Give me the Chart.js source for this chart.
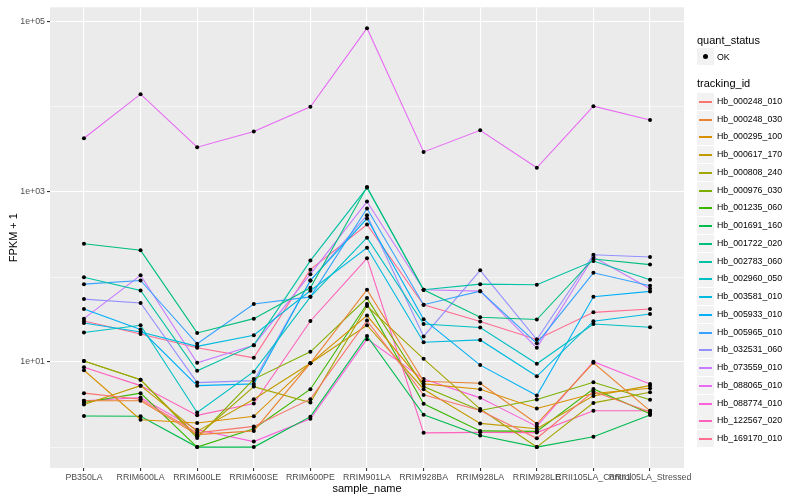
<!DOCTYPE html>
<html>
<head>
<meta charset="utf-8">
<script src="https://cdn.jsdelivr.net/npm/chart.js@4.4.1/dist/chart.umd.min.js"></script>
<style>
body { margin: 0; background: #fff; font-family: "Liberation Sans", Arial, sans-serif; }
#wrap { position: relative; width: 800px; height: 500px; }
#legend { position: absolute; left: 690px; top: 0; width: 110px; height: 500px; color: #000; }
.ltitle { position: absolute; left: 7px; font-size: 11px; line-height: 12px; }
.lkey { position: absolute; left: 7px; width: 17px; height: 17px; background: #F2F2F2; }
.lline { position: absolute; left: 2px; width: 13px; top: 8px; height: 2px; }
.ldot { position: absolute; left: 6px; top: 6px; width: 5px; height: 5px; border-radius: 50%; background: #000; }
.llabel { position: absolute; left: 27px; font-size: 8.8px; line-height: 10px; }
</style>
</head>
<body>
<div id="wrap">
  <canvas id="chart" width="800" height="500"></canvas>
  <div id="legend"></div>
</div>
<script>
// amostras (eixo x)
var samples = ['PB350LA', 'RRIM600LA', 'RRIM600LE', 'RRIM600SE', 'RRIM600PE', 'RRIM901LA',
               'RRIM928BA', 'RRIM928LA', 'RRIM928LE', 'RRII105LA_Control', 'RRII105LA_Stressed'];

var trackingIds = ['Hb_000248_010', 'Hb_000248_030', 'Hb_000295_100', 'Hb_000617_170', 'Hb_000808_240',
                   'Hb_000976_030', 'Hb_001235_060', 'Hb_001691_160', 'Hb_001722_020', 'Hb_002783_060',
                   'Hb_002960_050', 'Hb_003581_010', 'Hb_005933_010', 'Hb_005965_010', 'Hb_032531_060',
                   'Hb_073559_010', 'Hb_088065_010', 'Hb_088774_010', 'Hb_122567_020', 'Hb_169170_010'];

var colors = ['#F8766D', '#EA8331', '#D89000', '#C09B00', '#A3A500', '#7CAE00', '#39B600', '#00BB4E',
              '#00BF7D', '#00C1A3', '#00BFC4', '#00BAE0', '#00B0F6', '#35A2FF', '#9590FF', '#C77CFF',
              '#E76BF3', '#FA62DB', '#FF62BC', '#FF6C91'];

// FPKM + 1 por tracking_id, na ordem das amostras
var hb_000248_010 = [4.31, 3.66, 1.47, 1.75, 3.66, 30.7, 4.11, 2.69, 1.27, 4.5, 2.58];
var hb_000248_030 = [3.5, 3.5, 1.40, 1.55, 9.7, 70.8, 5.94, 5.63, 1.88, 9.8, 2.67];
var hb_000295_100 = [8.0, 2.10, 1.92, 2.30, 9.7, 35.2, 5.53, 4.79, 2.84, 4.27, 4.92];
var hb_000617_170 = [3.17, 5.28, 1.53, 3.66, 9.7, 27.1, 4.79, 1.90, 1.64, 4.0, 5.28];
var hb_000808_240 = [10.3, 6.2, 1.34, 5.14, 3.34, 45.5, 10.9, 2.80, 1.0, 3.31, 4.42];
var hb_000976_030 = [10.3, 6.2, 1.28, 6.3, 13.2, 56.5, 5.14, 2.69, 3.62, 5.79, 3.6];
var hb_001235_060 = [3.34, 4.31, 1.0, 1.64, 4.79, 48.1, 3.23, 1.55, 1.53, 4.83, 2.47];
var hb_001691_160 = [2.32, 2.30, 1.0, 1.0, 2.28, 20.3, 2.40, 1.37, 1.0, 1.32, 2.38];
var hb_001722_020 = [246, 206, 22.0, 32.4, 74.8, 1143, 70.8, 33.6, 31.6, 163, 140];
var hb_002783_060 = [99.5, 69.5, 7.9, 15.8, 156, 1120, 70.8, 82.4, 81, 154, 92.7];
var hb_002960_050 = [22.3, 27.1, 2.55, 7.7, 58.4, 290, 28.0, 25.5, 9.55, 28.0, 25.7];
var hb_003581_010 = [28.8, 22.6, 15.3, 20.7, 69, 221, 17.1, 18.2, 6.8, 30.2, 36.7];
var hb_005933_010 = [42, 24.1, 5.28, 5.53, 91, 487, 31.8, 9.2, 4.03, 58.7, 67.7];
var hb_005965_010 = [82.4, 91, 16.4, 48.1, 58.4, 639, 47.2, 68.2, 16.6, 112, 78.9];
var hb_032531_060 = [55, 49.4, 5.73, 6.04, 91, 534, 20.0, 120, 18.4, 183, 172];
var hb_073559_010 = [32.4, 105, 9.8, 15.8, 108, 771, 70.8, 68.2, 14.7, 172, 72.8];
var hb_088065_010 = [4285, 14125, 3358, 5129, 10050, 84400, 2960, 5310, 1923, 10210, 7010];
var hb_088774_010 = [3.5, 3.82, 1.6, 1.16, 2.15, 18.6, 6.3, 3.79, 1.75, 10.1, 5.53];
var hb_122567_020 = [8.67, 5.28, 2.36, 3.25, 30.4, 166, 1.47, 1.49, 1.48, 2.67, 2.67];
var hb_169170_010 = [30.4, 21.4, 14.7, 11.2, 122, 415, 47.2, 29.9, 18.4, 38.4, 42];

var seriesValues = [hb_000248_010, hb_000248_030, hb_000295_100, hb_000617_170, hb_000808_240,
                    hb_000976_030, hb_001235_060, hb_001691_160, hb_001722_020, hb_002783_060,
                    hb_002960_050, hb_003581_010, hb_005933_010, hb_005965_010, hb_032531_060,
                    hb_073559_010, hb_088065_010, hb_088774_010, hb_122567_020, hb_169170_010];

var yTicks = [1, 10, 100, 1000, 10000, 100000];
var yLabels = { 10: '1e+01', 1000: '1e+03', 100000: '1e+05' };

var datasets = [];
for (var i = 0; i < trackingIds.length; i++) {
    var pts = [];
    for (var j = 0; j < samples.length; j++) {
        pts.push({ x: j, y: seriesValues[i][j] });
    }
    datasets.push({
        label: trackingIds[i],
        data: pts,
        borderColor: colors[i],
        backgroundColor: '#000',
        pointBackgroundColor: '#000',
        pointBorderColor: '#000',
        pointRadius: 2,
        pointBorderWidth: 0,
        borderWidth: 1.1,
        tension: 0
    });
}

// fundo cinza do painel (estilo ggplot)
var panelBg = {
    id: 'panelBg',
    beforeDraw: function(chart) {
        var a = chart.chartArea;
        var ctx = chart.ctx;
        ctx.save();
        ctx.fillStyle = '#EBEBEB';
        ctx.fillRect(a.left, a.top, a.right - a.left, a.bottom - a.top);
        ctx.restore();
    }
};

function isMajor(v) {
    return yLabels[v] !== undefined;
}

var chart = new Chart(document.getElementById('chart'), {
    type: 'line',
    data: { datasets: datasets },
    plugins: [panelBg],
    options: {
        responsive: false,
        animation: false,
        devicePixelRatio: 1,
        layout: { padding: { left: 0, right: 116, top: 5, bottom: 0 } },
        plugins: {
            legend: { display: false },
            tooltip: { enabled: false }
        },
        scales: {
            x: {
                type: 'linear',
                min: -0.6,
                max: 10.6,
                afterBuildTicks: function(scale) {
                    scale.ticks = samples.map(function(s, k) { return { value: k }; });
                },
                afterFit: function(scale) { scale.height = 32; },
                ticks: {
                    autoSkip: false,
                    maxRotation: 0,
                    minRotation: 0,
                    padding: 1,
                    color: '#4D4D4D',
                    font: { family: 'Liberation Sans', size: 8.8 },
                    callback: function(value) { return samples[value]; }
                },
                grid: {
                    color: '#FFFFFF',
                    lineWidth: 1.1,
                    tickColor: '#333333',
                    tickLength: 3
                },
                border: { display: false },
                title: {
                    display: true,
                    text: 'sample_name',
                    color: '#000',
                    font: { family: 'Liberation Sans', size: 11 },
                    padding: { top: 0, bottom: 4 }
                }
            },
            y: {
                type: 'logarithmic',
                min: 0.5675,
                max: 148600,
                afterBuildTicks: function(scale) {
                    scale.ticks = yTicks.map(function(v) { return { value: v }; });
                },
                afterFit: function(scale) { scale.width = 50; },
                ticks: {
                    padding: 2,
                    color: '#4D4D4D',
                    font: { family: 'Liberation Sans', size: 8.8 },
                    callback: function(value) { return yLabels[value] || ''; }
                },
                grid: {
                    color: '#FFFFFF',
                    lineWidth: function(ctx) { return ctx.tick && isMajor(ctx.tick.value) ? 1.1 : 0.55; },
                    tickColor: function(ctx) { return ctx.tick && isMajor(ctx.tick.value) ? '#333333' : 'rgba(0,0,0,0)'; },
                    tickLength: 3
                },
                border: { display: false },
                title: {
                    display: true,
                    text: 'FPKM + 1',
                    color: '#000',
                    font: { family: 'Liberation Sans', size: 11 },
                    padding: { top: 7, bottom: 0 }
                }
            }
        }
    }
});

// legenda montada em HTML
var legend = document.getElementById('legend');
var html = '';
html += '<div class="ltitle" style="top:34px">quant_status</div>';
html += '<div class="lkey" style="top:48px"><div class="ldot"></div></div>';
html += '<div class="llabel" style="top:52px">OK</div>';
html += '<div class="ltitle" style="top:77px">tracking_id</div>';
for (var k = 0; k < trackingIds.length; k++) {
    var cy = Math.round(101 + k * 17.74);
    html += '<div class="lkey" style="top:' + (cy - 8) + 'px"><div class="lline" style="background:' + colors[k] + '"></div></div>';
    html += '<div class="llabel" style="top:' + (cy - 5) + 'px">' + trackingIds[k] + '</div>';
}
legend.innerHTML = html;
</script>
</body>
</html>
